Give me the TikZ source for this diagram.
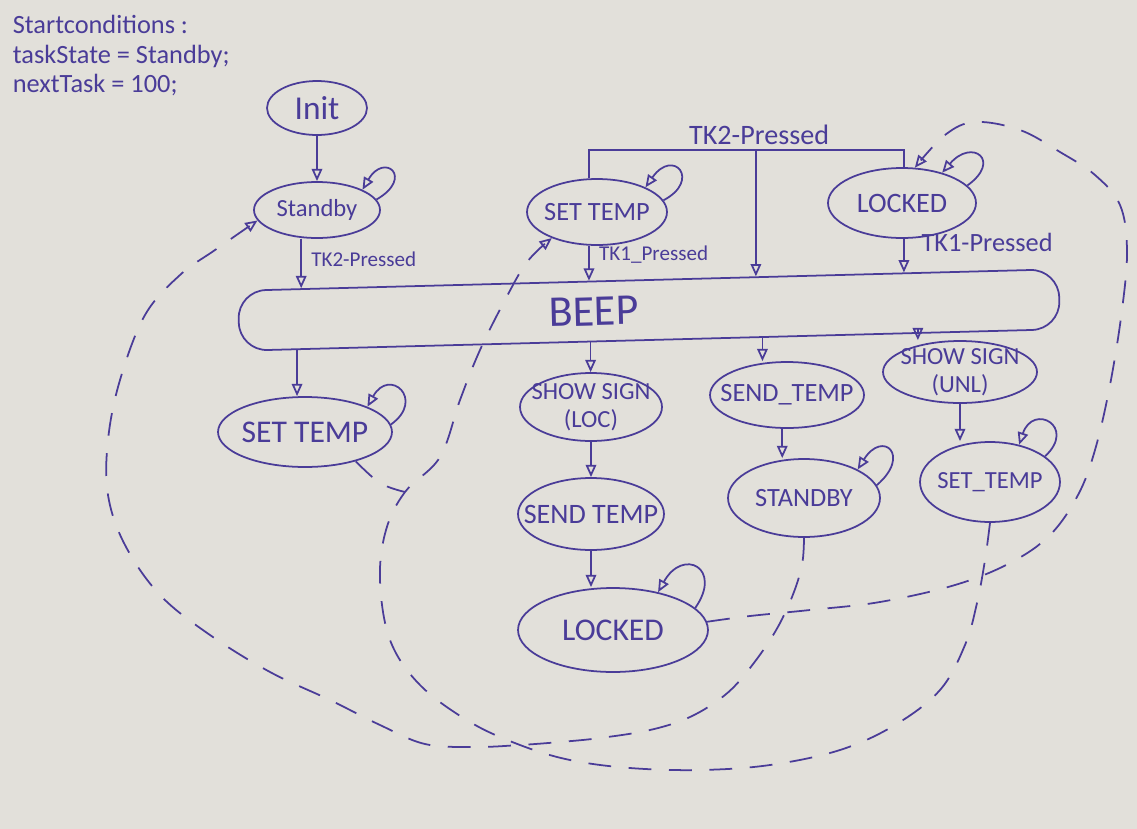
\documentclass[tikz,border=0pt]{standalone}
\usepackage{fontspec}
\setmainfont{Carlito}
\usetikzlibrary{arrows.meta,shapes.geometric,calc}
\definecolor{ink}{RGB}{74,60,152}
\definecolor{paper}{RGB}{226,224,218}
\newcommand{\sloop}[5]{\draw[arr] (#1.#2) .. controls +(#4) and +(#5) .. (#1.#3);}
\begin{document}
\begin{tikzpicture}[x=0.02cm,y=-0.02cm,line width=1pt,color=ink,
  st/.style={draw,ellipse,inner sep=-20pt,align=center,font=\fontsize{15}{17}\selectfont},
  arr/.style={-{Triangle[open,length=7pt,width=6pt]}},
  dsh/.style={dash pattern=on 13pt off 10pt},
  lbl/.style={inner sep=1pt,font=\fontsize{12}{14}\selectfont}]
\fill[paper] (0,0) rectangle (1137,829);
\useasboundingbox (0,0) rectangle (1137,829);

% start conditions
\node[anchor=north west,align=left,inner sep=0pt,font=\fontsize{15}{17}\selectfont] (cond) at (12,14)
  {Startconditions :\\taskState = Standby;\\nextTask = 100;};

% top states
\node[st,minimum width=2.0cm,minimum height=1.08cm,font=\fontsize{19}{21}\selectfont] (Init) at (317,108) {Init};
\node[st,minimum width=2.52cm,minimum height=1.12cm,font=\fontsize{14}{16}\selectfont] (Standby) at (317,210) {Standby};
\node[st,minimum width=2.8cm,minimum height=1.32cm] (SETTEMPT) at (597,212) {SET TEMP};
\node[st,minimum width=2.96cm,minimum height=1.4cm,font=\fontsize{16}{18}\selectfont] (LOCKEDT) at (902,203) {LOCKED};

% BEEP
\node[draw,rectangle,rounded corners=0.56cm,minimum width=16.42cm,minimum height=1.2cm,rotate=1.5,inner sep=0pt,
  font=\fontsize{25}{27}\selectfont] (BEEP) at (649,310) {\raisebox{-0.18cm}{BEEP}\hspace*{2.2cm}};

% lower states
\node[st,minimum width=3.48cm,minimum height=1.4cm,font=\fontsize{18}{20}\selectfont] (SETTEMPL) at (305,432) {SET TEMP};
\node[st,minimum width=2.84cm,minimum height=1.36cm,font=\fontsize{14}{16}\selectfont] (SHOWLOC) at (591,407) {SHOW SIGN\\(LOC)};
\node[st,minimum width=2.92cm,minimum height=1.44cm,font=\fontsize{16}{18}\selectfont] (SENDT1) at (591,514) {SEND TEMP};
\node[st,minimum width=3.8cm,minimum height=1.68cm,font=\fontsize{18}{20}\selectfont] (LOCKEDB) at (613,630) {LOCKED};
\node[st,minimum width=3.08cm,minimum height=1.32cm] (SENDT2) at (787,395) {SEND\_TEMP};
\node[st,minimum width=3.04cm,minimum height=1.56cm] (STANDBY2) at (804,498) {STANDBY};
\node[st,minimum width=3.08cm,minimum height=1.24cm,font=\fontsize{14}{16}\selectfont] (SHOWUNL) at (960,372) {SHOW SIGN\\(UNL)};
\node[st,minimum width=2.8cm,minimum height=1.6cm,font=\fontsize{14}{16}\selectfont] (SETTEMPR) at (990,482) {SET\_TEMP};

% points on BEEP border
\coordinate (bt1) at ($(BEEP.north west)!0.078!(BEEP.north east)$);
\coordinate (bt2) at ($(BEEP.north west)!0.428!(BEEP.north east)$);
\coordinate (bt3) at ($(BEEP.north west)!0.631!(BEEP.north east)$);
\coordinate (bt4) at ($(BEEP.north west)!0.811!(BEEP.north east)$);
\coordinate (bb1) at ($(BEEP.south west)!0.071!(BEEP.south east)$);
\coordinate (bb2) at ($(BEEP.south west)!0.428!(BEEP.south east)$);
\coordinate (bb3) at ($(BEEP.south west)!0.637!(BEEP.south east)$);
\coordinate (bb4) at ($(BEEP.south west)!0.826!(BEEP.south east)$);
\coordinate (bar) at (757,150);
\coordinate (J) at (405,492);

% solid transitions
\draw[arr] (Init) -- (Standby);
\draw[arr] (bt1 |- Standby.south) -- node[lbl,right=0.15cm,pos=0.42]{TK2-Pressed} (bt1);
\draw[arr] (bt2 |- SETTEMPT.south) -- node[lbl,right=0.15cm,pos=0.25]{TK1\_Pressed} (bt2);
\draw[arr] (bt4 |- LOCKEDT.south) -- node[lbl,right=0.3cm,pos=0.1,font=\fontsize{15}{17}\selectfont]{TK1-Pressed} (bt4);
\draw (bt2 |- SETTEMPT.north) -- (bt2 |- bar)
  -- node[lbl,above=0.05cm,pos=0.54,font=\fontsize{16}{18}\selectfont]{TK2-Pressed} (bt4 |- bar)
  -- (bt4 |- LOCKEDT.north);
\draw[arr] (bt3 |- bar) -- (bt3);

\draw[arr] (bb1) -- (bb1 |- SETTEMPL.north);
\draw[arr] (bb2) -- (bb2 |- SHOWLOC.north);
\draw[arr] (bb3) -- (bb3 |- SENDT2.north);
\draw[arr] (bb4) -- (bb4 |- SHOWUNL.north);
\draw[arr] (SHOWLOC) -- (SENDT1);
\draw[arr] (SENDT1.south) -- (SENDT1.south |- LOCKEDB.north);
\draw[arr] (SENDT2.262) -- (SENDT2.262 |- STANDBY2.north);
\draw[arr] (SHOWUNL.south) -- (SHOWUNL.south |- SETTEMPR.north);

% self loops
\sloop{Standby}{10}{24}{38,-22}{22,-38}
\sloop{SETTEMPT}{10}{27}{38,-20}{28,-40}
\sloop{LOCKEDT}{15}{37}{35,-25}{30,-35}
\sloop{SETTEMPL}{5}{22}{35,-25}{22,-40}
\sloop{STANDBY2}{10}{28}{35,-30}{25,-40}
\sloop{SETTEMPR}{25}{52}{32,-30}{14,-42}
\sloop{LOCKEDB}{15}{40}{28,-40}{25,-45}

% dashed return paths
\draw[dsh] plot[smooth,tension=0.6] coordinates {(SETTEMPL.330) (380,483) (J)};
\draw[dsh,arr] plot[smooth,tension=0.6] coordinates {(SETTEMPR.south) (985,560) (977,603) (965,645)
  (940,690) (895,725) (840,750) (770,765) (700,770) (630,768) (570,760) (520,745) (470,722)
  (420,685) (390,640) (380,580) (386,530) (J) (440,457) (460,400) (480,350) (505,300) (527,262)
  (SETTEMPT.210)};
\draw[dsh,arr] plot[smooth,tension=0.6] coordinates {(STANDBY2.south) (802,565) (792,597) (775,632)
  (750,668) (725,695) (690,717) (650,730) (600,738) (560,742) (520,745) (475,747) (425,744)
  (380,725) (330,700) (270,672) (210,635) (160,595) (125,545) (108,495) (108,440) (120,380)
  (145,315) (180,275) (215,250) (Standby.190)};
\draw[dsh,arr] plot[smooth,tension=0.6] coordinates {(LOCKEDB.5) (750,616) (810,610) (880,602)
  (955,585) (1010,563) (1050,535) (1078,495) (1095,450) (1110,385) (1122,310) (1127,250)
  (1120,205) (1095,175) (1060,152) (1020,130) (975,122) (945,135) (LOCKEDT.70)};
\end{tikzpicture}
\end{document}
